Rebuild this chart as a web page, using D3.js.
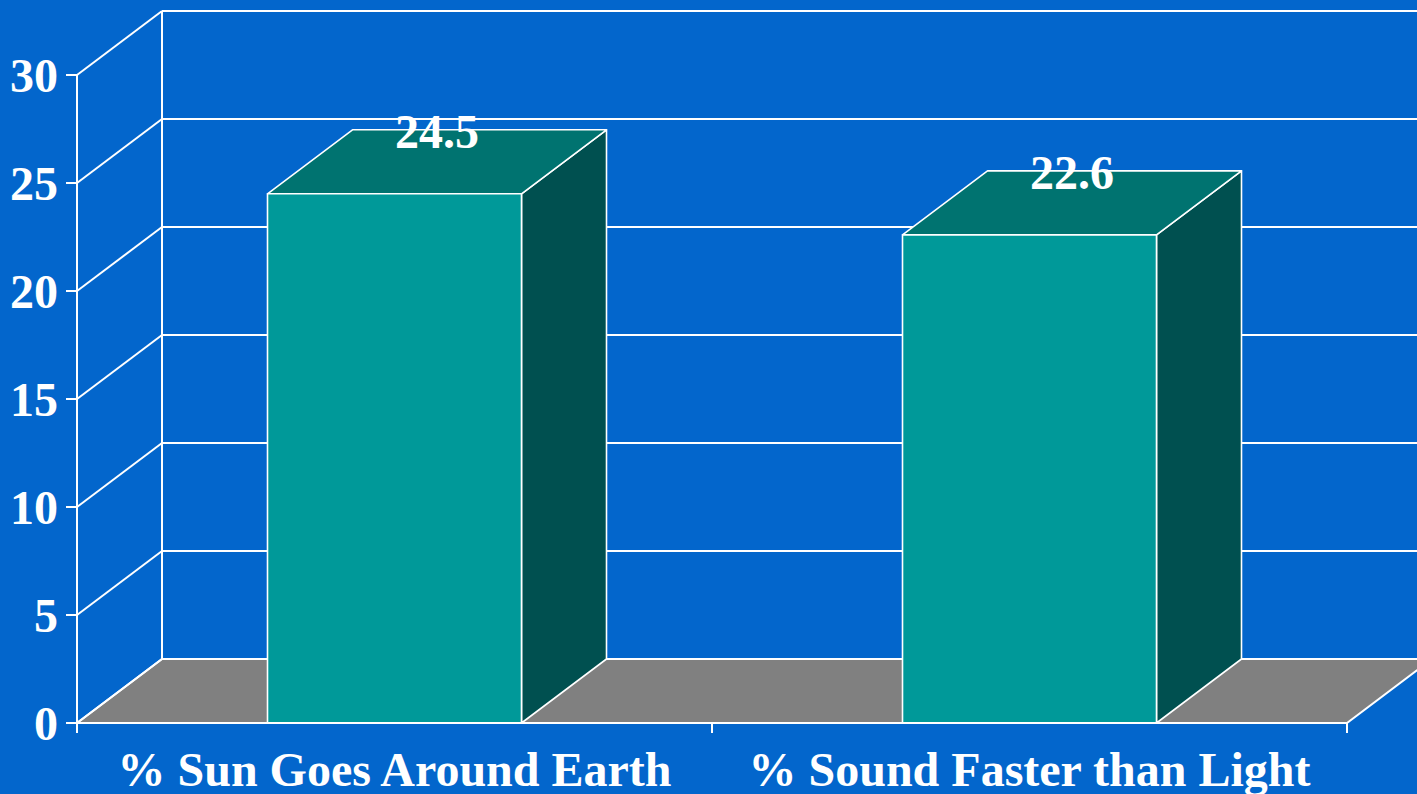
<!DOCTYPE html>
<html>
<head>
<meta charset="utf-8">
<script src="https://cdn.jsdelivr.net/npm/d3@7/dist/d3.min.js"></script>
<style>
  html, body { margin: 0; padding: 0; background: #0366CC; overflow: hidden; }
  svg { display: block; }
  text { font-family: "Liberation Serif", "Times New Roman", serif; font-weight: bold; fill: #fff; }
</style>
</head>
<body>
<svg id="chart" width="1417" height="794"></svg>
<script>
// Survey results (percent of respondents)
const categories = ["% Sun Goes Around Earth", "% Sound Faster than Light"];
const values = [24.5, 22.6];
const yTicks = [0, 5, 10, 15, 20, 25, 30];

const W = 1417, H = 794;
const svg = d3.select("#chart");

// Plot frame: front plane and the depth offset of the back wall
const plotLeft = 77, plotRight = 1347, plotBottom = 723, plotTop = 75;
const depthX = 85, depthY = -64;
const fontSize = 48;

const x = d3.scaleBand().domain(categories).range([plotLeft, plotRight])
  .paddingInner(0.6).paddingOuter(0.3);
const y = d3.scaleLinear().domain([0, 30]).range([plotBottom, plotTop]);

const colors = {
  bg: "#0366CC",
  floor: "#808080",
  front: "#009999",
  topFace: "#007370",
  side: "#005050",
  line: "#ffffff"
};

svg.append("rect").attr("width", W).attr("height", H).attr("fill", colors.bg);

const wallRight = plotRight + depthX;

// Floor
svg.append("path")
  .attr("d", d3.line()([
    [plotLeft, y(0)], [plotRight, y(0)], [wallRight, y(0) + depthY], [plotLeft + depthX, y(0) + depthY]
  ]) + "Z")
  .attr("fill", colors.floor)
  .attr("stroke", colors.line).attr("stroke-width", 2);

// Back wall gridlines and side wall diagonals
const grid = svg.append("g").attr("stroke", colors.line).attr("stroke-width", 2).attr("fill", "none");
yTicks.forEach(t => {
  grid.append("line")
    .attr("x1", plotLeft + depthX).attr("x2", wallRight)
    .attr("y1", y(t) + depthY).attr("y2", y(t) + depthY);
  grid.append("line")
    .attr("x1", plotLeft).attr("x2", plotLeft + depthX)
    .attr("y1", y(t)).attr("y2", y(t) + depthY);
});
// Back wall left edge
grid.append("line")
  .attr("x1", plotLeft + depthX).attr("x2", plotLeft + depthX)
  .attr("y1", y(30) + depthY).attr("y2", y(0) + depthY);

// Bars as 3D boxes
const barData = categories.map((c, i) => ({ c, v: values[i] }));
const bars = svg.append("g").selectAll("g.bar")
  .data(barData)
  .join("g").attr("class", "bar")
  .attr("stroke", colors.line).attr("stroke-width", 1.6).attr("stroke-linejoin", "round");

bars.each(function(d) {
  const g = d3.select(this);
  const x0 = x(d.c), x1 = x(d.c) + x.bandwidth();
  const yt = y(d.v), yb = y(0);
  // right side face
  g.append("path").attr("fill", colors.side)
    .attr("d", d3.line()([[x1, yb], [x1 + depthX, yb + depthY], [x1 + depthX, yt + depthY], [x1, yt]]) + "Z");
  // top face
  g.append("path").attr("fill", colors.topFace)
    .attr("d", d3.line()([[x0, yt], [x0 + depthX, yt + depthY], [x1 + depthX, yt + depthY], [x1, yt]]) + "Z");
  // front face
  g.append("rect").attr("fill", colors.front)
    .attr("x", x0).attr("y", yt).attr("width", x1 - x0).attr("height", yb - yt);
});

// Value labels on bar tops
svg.append("g").selectAll("text")
  .data(barData)
  .join("text")
  .attr("x", d => x(d.c) + x.bandwidth() / 2 + depthX / 2)
  .attr("y", d => y(d.v) + depthY + 18)
  .attr("text-anchor", "middle")
  .attr("font-size", fontSize)
  .text(d => d.v.toFixed(1));

// Front axes
const axis = svg.append("g").attr("stroke", colors.line).attr("stroke-width", 2);
axis.append("line").attr("x1", plotLeft).attr("x2", plotLeft).attr("y1", y(30)).attr("y2", y(0) + 10);
axis.append("line").attr("x1", plotLeft).attr("x2", plotRight).attr("y1", y(0)).attr("y2", y(0));
yTicks.forEach(t => {
  axis.append("line").attr("x1", plotLeft - 11).attr("x2", plotLeft).attr("y1", y(t)).attr("y2", y(t));
});
d3.range(categories.length + 1).forEach(i => {
  const xp = plotLeft + i * x.step();
  axis.append("line").attr("x1", xp).attr("x2", xp).attr("y1", y(0)).attr("y2", y(0) + 10);
});

// Y tick labels
svg.append("g").selectAll("text")
  .data(yTicks).join("text")
  .attr("x", plotLeft - 19).attr("y", d => y(d))
  .attr("dy", "0.36em")
  .attr("text-anchor", "end")
  .attr("font-size", fontSize)
  .text(d => d);

// Category labels
svg.append("g").selectAll("text")
  .data(categories).join("text")
  .attr("x", d => x(d) + x.bandwidth() / 2)
  .attr("y", 786)
  .attr("text-anchor", "middle")
  .attr("font-size", fontSize)
  .text(d => d);
</script>
</body>
</html>
